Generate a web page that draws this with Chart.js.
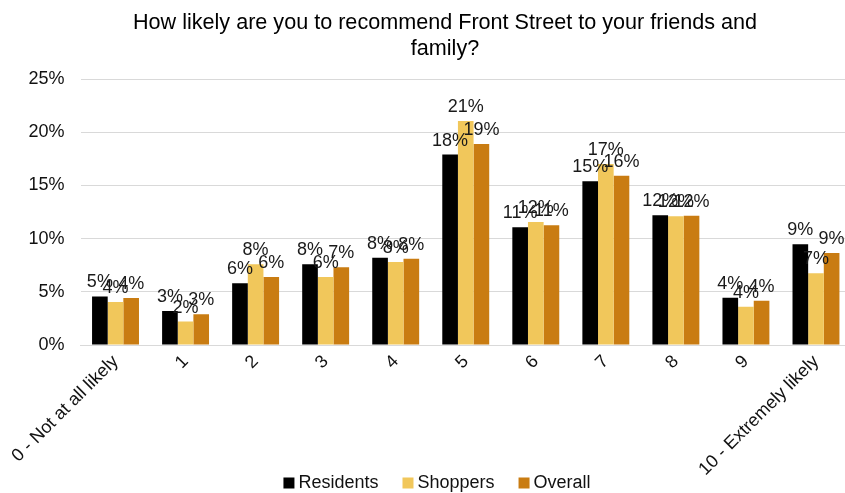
<!DOCTYPE html>
<html>
<head>
<meta charset="utf-8">
<script src="https://cdn.jsdelivr.net/npm/chart.js@4"></script>
<style>
  html, body { margin: 0; padding: 0; overflow: hidden; background: #fff; }
  #recommend { display: block; }
</style>
</head>
<body>
<canvas id="recommend" width="851" height="493"></canvas>
<script>
// likelihood scale 0..10
const categories = ['0 - Not at all likely', '1', '2', '3', '4', '5', '6', '7', '8', '9', '10 - Extremely likely'];

// share of respondents, in percent
const residents = [4.57, 3.2, 5.8, 7.6, 8.2, 17.9, 11.06, 15.4, 12.2, 4.45, 9.46];
const shoppers  = [4.04, 2.2, 7.6, 6.4, 7.8, 21.05, 11.56, 17.0, 12.1, 3.6, 6.74];
const overall   = [4.42, 2.9, 6.4, 7.3, 8.1, 18.9, 11.25, 15.9, 12.15, 4.17, 8.65];

const yTicks = [0, 5, 10, 15, 20, 25];

const titleLines = ['How likely are you to recommend Front Street to your friends and', 'family?'];

const FONT = "'Liberation Sans', Arial, sans-serif";
const TEXT = '#111';

// rounded value above each bar
const barLabels = {
  id: 'barLabels',
  afterDatasetsDraw(chart) {
    const ctx = chart.ctx;
    ctx.save();
    ctx.font = '18px ' + FONT;
    ctx.fillStyle = '#1a1a1a';
    ctx.textAlign = 'center';
    ctx.textBaseline = 'alphabetic';
    chart.data.datasets.forEach((ds, i) => {
      chart.getDatasetMeta(i).data.forEach((bar, j) => {
        ctx.fillText(Math.round(ds.data[j]) + '%', bar.x, bar.y - 9);
      });
    });
    ctx.restore();
  }
};

// title on top, series key along the bottom
const header = {
  id: 'header',
  afterDraw(chart) {
    const ctx = chart.ctx;
    ctx.save();
    ctx.fillStyle = '#000';
    ctx.font = '21.6px ' + FONT;
    ctx.textAlign = 'center';
    ctx.textBaseline = 'middle';
    titleLines.forEach((line, i) => ctx.fillText(line, 445, 23 + i * 26));

    ctx.font = '18px ' + FONT;
    ctx.textAlign = 'left';
    const box = 11, gap = 4, space = 24;
    const items = chart.data.datasets.map(ds => ({
      label: ds.label, color: ds.backgroundColor, w: ctx.measureText(ds.label).width
    }));
    let total = items.reduce((s, it) => s + box + gap + it.w, 0) + space * (items.length - 1);
    let x = 437 - total / 2;
    const y = 483;
    items.forEach(it => {
      ctx.fillStyle = it.color;
      ctx.fillRect(x, y - box / 2, box, box);
      ctx.fillStyle = TEXT;
      ctx.fillText(it.label, x + box + gap, y);
      x += box + gap + it.w + space;
    });
    ctx.restore();
  }
};

let recommend = document.getElementById('recommend');

new Chart(recommend, {
  type: 'bar',
  data: {
    labels: categories,
    datasets: [
      { label: 'Residents', data: residents, backgroundColor: '#000000' },
      { label: 'Shoppers', data: shoppers, backgroundColor: '#F1C75B' },
      { label: 'Overall', data: overall, backgroundColor: '#C97C12' }
    ]
  },
  plugins: [barLabels, header],
  options: {
    animation: false,
    responsive: false,
    maintainAspectRatio: false,
    categoryPercentage: 0.67,
    barPercentage: 1,
    layout: { padding: { left: 0, right: 0, top: 79, bottom: 0 } },
    plugins: {
      title: { display: false },
      legend: { display: false },
      tooltip: { enabled: false }
    },
    scales: {
      x: {
        afterFit: function(scale) { scale.height = 148; },
        grid: { display: false, drawTicks: false },
        border: { color: '#d9d9d9', width: 1 },
        ticks: {
          color: TEXT,
          font: { family: FONT, size: 18 },
          minRotation: 45,
          maxRotation: 45,
          autoSkip: false,
          padding: 6
        }
      },
      y: {
        min: 0,
        max: 25,
        afterFit: function(scale) { scale.width = 80.5; },
        afterBuildTicks: function(scale) {
          scale.ticks = yTicks.map(v => ({ value: v }));
        },
        grid: { color: '#d9d9d9', drawTicks: false },
        border: { display: false },
        ticks: {
          color: TEXT,
          font: { family: FONT, size: 18 },
          padding: 16,
          callback: function(value) { return value + '%'; }
        }
      }
    }
  }
});
</script>
</body>
</html>
